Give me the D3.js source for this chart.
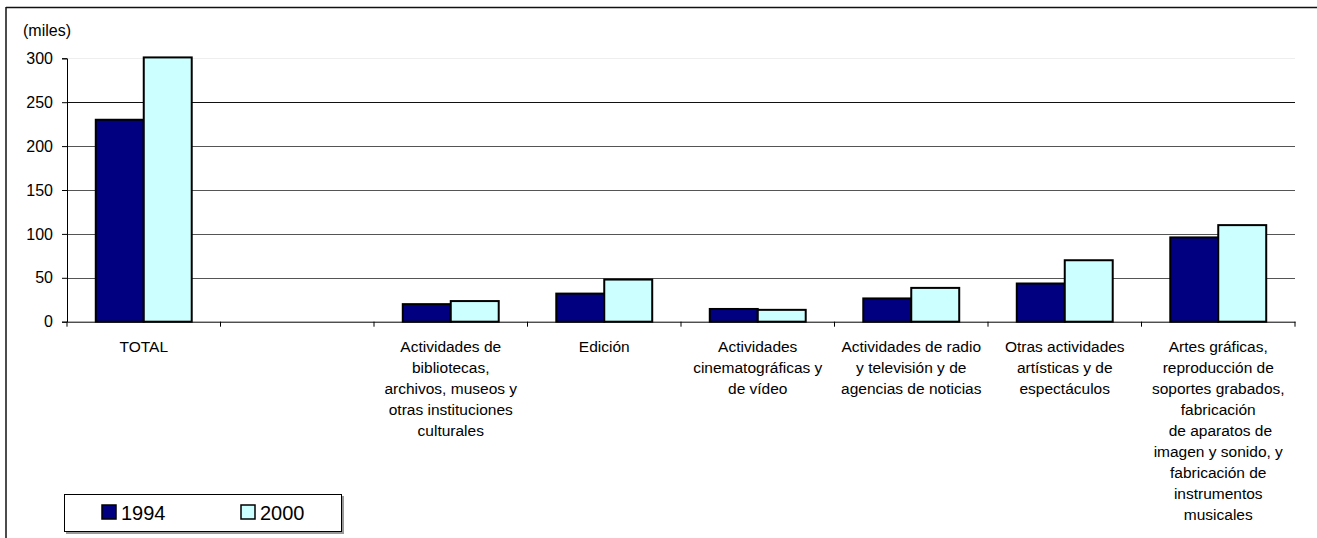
<!DOCTYPE html>
<html>
<head>
<meta charset="utf-8">
<script src="https://cdn.jsdelivr.net/npm/d3@7"></script>
<style>
  html, body { margin: 0; background: #fff; overflow: hidden; }
  svg { display: block; }
  text { font-family: "Liberation Sans", Arial, sans-serif; fill: #000; }
</style>
</head>
<body>
<div class="chart"></div>
<script>
var svgWidth = 1317;
var svgHeight = 538;

// data
var categories = [
    "TOTAL",
    "",
    "Actividades de\nbibliotecas,\narchivos, museos y\notras instituciones\nculturales",
    "Edición",
    "Actividades\ncinematográficas y\nde vídeo",
    "Actividades de radio\ny televisión y de\nagencias de noticias",
    "Otras actividades\nartísticas y de\nespectáculos",
    "Artes gráficas,\nreproducción de\nsoportes grabados,\nfabricación\n de aparatos de\nimagen y sonido, y\nfabricación de\ninstrumentos\nmusicales"
];
var years = ["1994", "2000"];
var values1994 = [230, null, 20, 32, 14.5, 26.5, 43.5, 96];
var values2000 = [301, null, 23.5, 48, 13.5, 38.5, 70, 110];
var yTicks = [0, 50, 100, 150, 200, 250, 300];

var colors = { "1994": "#000080", "2000": "#CCFFFF" };

var margin = { top: 58.3, left: 67, right: 22, bottom: 216.3 };
var plotRight = svgWidth - margin.right;
var plotBottom = svgHeight - margin.bottom;

var svg = d3.select(".chart")
    .append("svg")
    .attr("width", svgWidth)
    .attr("height", svgHeight);

// outer chart frame, only the top and left edges show
svg.append("line")
    .attr("x1", 6).attr("x2", 6)
    .attr("y1", 7).attr("y2", svgHeight)
    .attr("stroke", "#111")
    .attr("stroke-width", 1.5);
svg.append("line")
    .attr("x1", 6).attr("x2", svgWidth)
    .attr("y1", 7.5).attr("y2", 7.5)
    .attr("stroke", "#111")
    .attr("stroke-width", 1.5);

var x0 = d3.scaleBand()
    .domain(d3.range(categories.length))
    .range([margin.left, plotRight])
    .padding(0);

var x1 = d3.scaleBand()
    .domain(years)
    .range([0, x0.bandwidth()])
    .paddingInner(0)
    .paddingOuter(0.6);

var y = d3.scaleLinear()
    .domain([0, 300])
    .range([plotBottom, margin.top]);

// gridlines
svg.append("g")
    .selectAll("line")
    .data(yTicks.filter(d => d > 0))
    .enter()
    .append("line")
    .attr("x1", margin.left)
    .attr("x2", plotRight)
    .attr("y1", d => Math.round(y(d)) + 0.5)
    .attr("y2", d => Math.round(y(d)) + 0.5)
    .attr("stroke", d => d === 300 ? "#eee" : (d === 250 ? "#111" : "#555"))
    .attr("stroke-width", 1);

// bars
var rows = categories.map((c, i) => ({ i: i, "1994": values1994[i], "2000": values2000[i] }));

var groups = svg.append("g")
    .selectAll("g")
    .data(rows)
    .enter()
    .append("g")
    .attr("transform", d => `translate(${x0(d.i)},0)`);

groups.selectAll("rect")
    .data(d => years.filter(k => d[k] != null).map(k => ({ key: k, value: d[k] })))
    .enter()
    .append("rect")
    .attr("x", d => x1(d.key))
    .attr("width", x1.bandwidth())
    .attr("y", d => y(d.value))
    .attr("height", d => y(0) - y(d.value))
    .attr("fill", d => colors[d.key])
    .attr("stroke", "#000")
    .attr("stroke-width", 2);

// y axis
var leftAxis = d3.axisLeft(y)
    .tickValues(yTicks)
    .tickSize(5)
    .tickPadding(9);

var yAxis = svg.append("g")
    .attr("transform", `translate(${margin.left},0)`)
    .call(leftAxis);
yAxis.selectAll("text").style("font-size", "16px");
yAxis.selectAll("line, path").attr("stroke", "#000");

// x axis
var bottomAxis = d3.axisBottom(x0)
    .tickValues([])
    .tickSizeOuter(0);

var xAxis = svg.append("g")
    .attr("transform", `translate(0,${plotBottom})`)
    .call(bottomAxis);
xAxis.select("path").attr("stroke", "#000");

// category boundary ticks
xAxis.selectAll("line.sep")
    .data(d3.range(categories.length + 1))
    .enter()
    .append("line")
    .attr("class", "sep")
    .attr("x1", d => d === categories.length ? plotRight : x0(d))
    .attr("x2", d => d === categories.length ? plotRight : x0(d))
    .attr("y1", 0)
    .attr("y2", 5)
    .attr("stroke", "#000");

// category labels
var labels = svg.append("g")
    .selectAll("text")
    .data(categories)
    .enter()
    .append("text")
    .attr("x", (d, i) => x0(i) + x0.bandwidth() / 2)
    .attr("y", plotBottom + 30)
    .attr("text-anchor", "middle")
    .style("font-size", "15.5px");

labels.selectAll("tspan")
    .data(d => d.split("\n"))
    .enter()
    .append("tspan")
    .attr("x", function () { return d3.select(this.parentNode).attr("x"); })
    .attr("dy", (d, i) => i === 0 ? 0 : 21)
    .attr("xml:space", "preserve")
    .text(d => d);

// unit label
svg.append("text")
    .attr("x", 23)
    .attr("y", 36)
    .style("font-size", "16px")
    .text("(miles)");

// legend
var legend = svg.append("g");

legend.append("rect")
    .attr("x", 66)
    .attr("y", 496)
    .attr("width", 278)
    .attr("height", 38)
    .attr("fill", "#999");

legend.append("rect")
    .attr("x", 64.5)
    .attr("y", 494.5)
    .attr("width", 277)
    .attr("height", 37)
    .attr("fill", "#fff")
    .attr("stroke", "#000")
    .attr("stroke-width", 1);

var legendItems = legend.selectAll("g.item")
    .data(years)
    .enter()
    .append("g")
    .attr("class", "item")
    .attr("transform", (d, i) => `translate(${102 + i * 139},0)`);

legendItems.append("rect")
    .attr("x", 0)
    .attr("y", 505)
    .attr("width", 14)
    .attr("height", 14)
    .attr("fill", d => colors[d])
    .attr("stroke", "#000")
    .attr("stroke-width", 1.5);

legendItems.append("text")
    .attr("x", 19)
    .attr("y", 520)
    .style("font-size", "20px")
    .text(d => d);
</script>
</body>
</html>
